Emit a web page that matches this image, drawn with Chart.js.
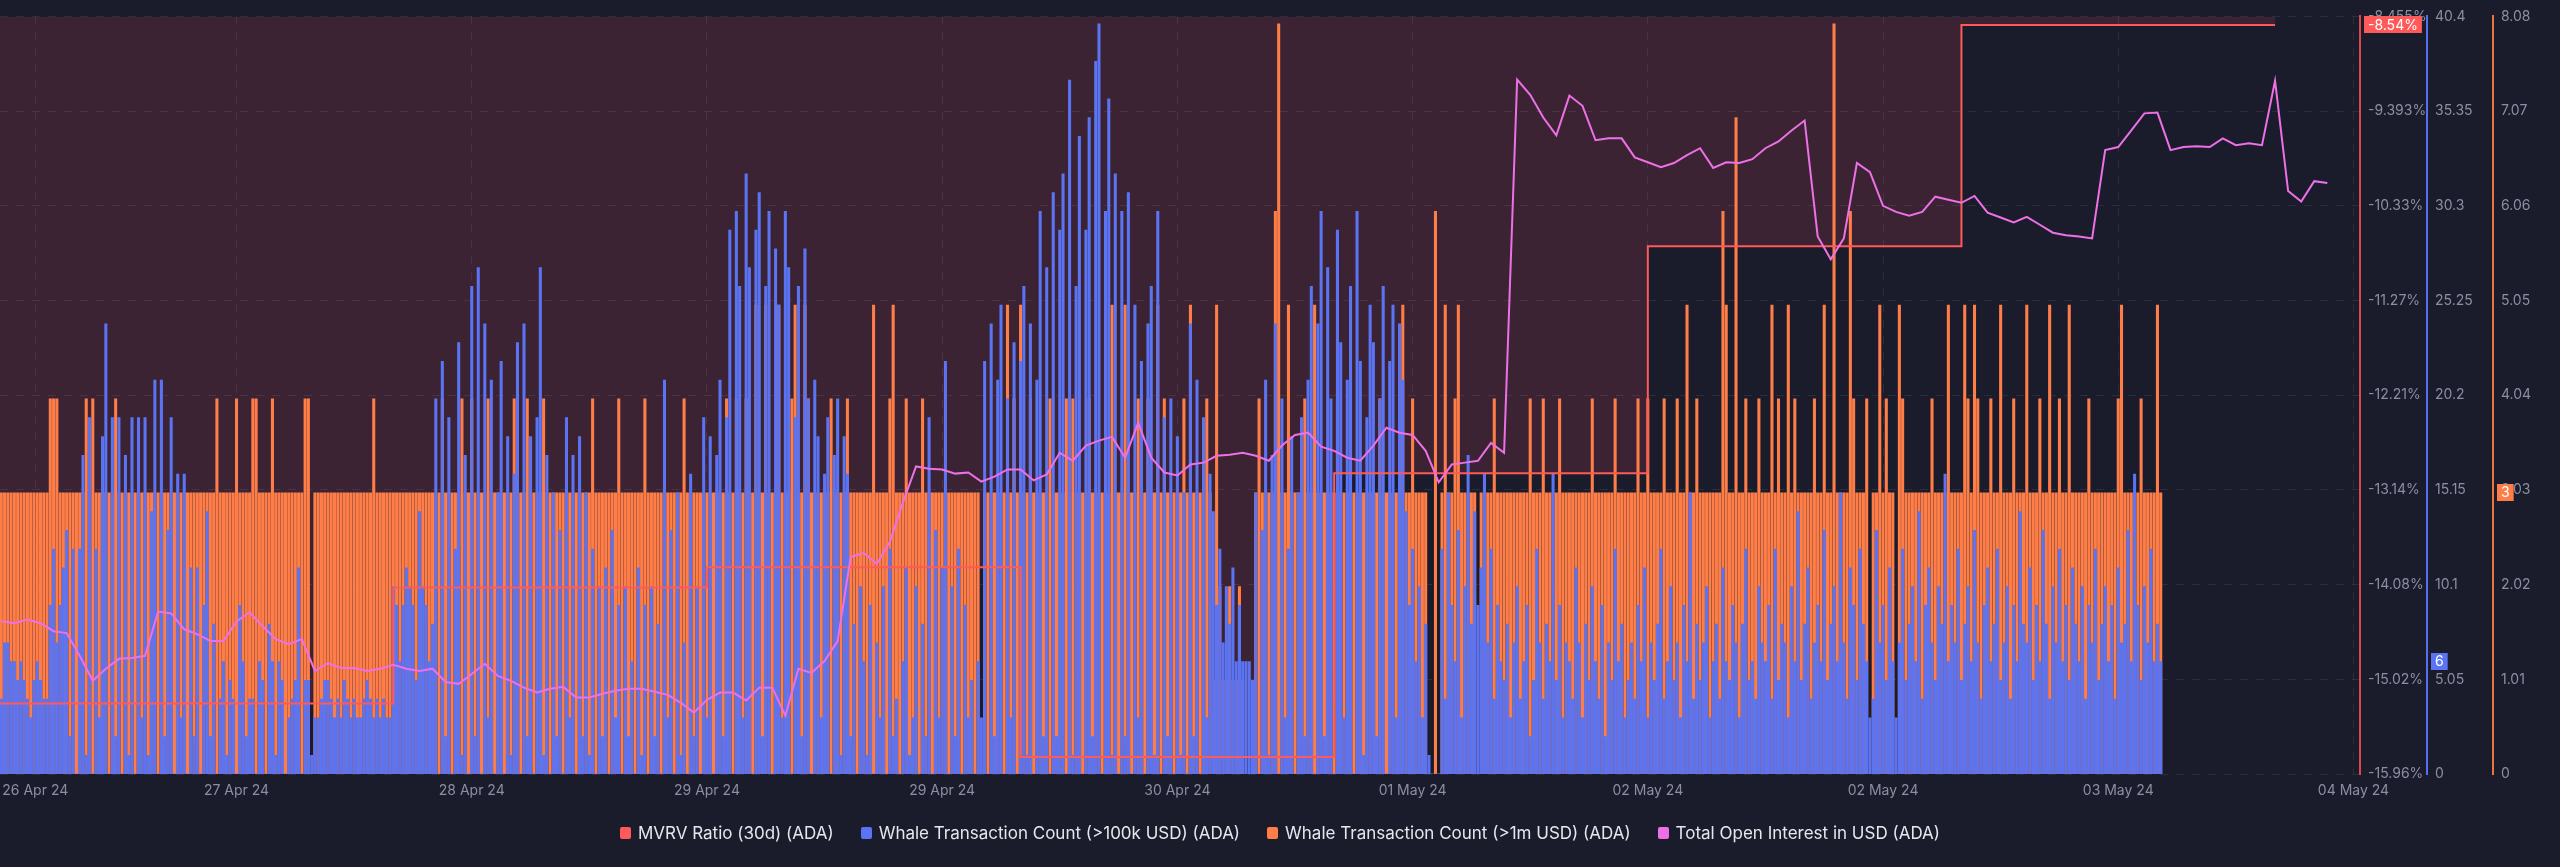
<!DOCTYPE html>
<html>
<head>
<meta charset="utf-8">
<script src="https://cdn.jsdelivr.net/npm/chart.js@4.4.1/dist/chart.umd.min.js"></script>
<style>
  html, body { margin: 0; padding: 0; background: #1b1c2b; }
  #wrap { position: relative; width: 2560px; height: 867px; overflow: hidden; }
  #legend {
    position: absolute; left: 0; top: 823px; width: 2560px;
    display: flex; justify-content: center; gap: 27px;
    font: 17px Inter, "Noto Sans", sans-serif; color: #e6e7ee;
  }
  #legend .item { display: flex; align-items: center; white-space: nowrap; }
  #legend .box { width: 11px; height: 12px; border-radius: 2px; margin-right: 7px; }
</style>
</head>
<body>
<div id="wrap">
  <canvas id="chart" width="2560" height="867"></canvas>
  <div id="legend"></div>
</div>
<script>
// ---- data ----
const SERIES_NAMES = [
  "MVRV Ratio (30d) (ADA)",
  "Whale Transaction Count (>100k USD) (ADA)",
  "Whale Transaction Count (>1m USD) (ADA)",
  "Total Open Interest in USD (ADA)",
];
const SERIES_COLORS = ["#ff5a5a", "#5a74f4", "#ff7e48", "#ee70e6"];

// x axis window and tick dates
const X_START = "2024-04-26T17:54:00Z";
const X_END = "2024-05-04T06:30:00Z";
const TICK_TIMES = [
  "2024-04-26T20:36:00Z", "2024-04-27T12:00:00Z", "2024-04-28T06:00:00Z", "2024-04-29T00:00:00Z",
  "2024-04-29T18:00:00Z", "2024-04-30T12:00:00Z", "2024-05-01T06:00:00Z", "2024-05-02T00:00:00Z",
  "2024-05-02T18:00:00Z", "2024-05-03T12:00:00Z", "2024-05-04T06:00:00Z",
];

// MVRV 30d, daily (%)
const MVRV_DATES = ["2024-04-26", "2024-04-27", "2024-04-28", "2024-04-29", "2024-04-30", "2024-05-01", "2024-05-02", "2024-05-03", "2024-05-04"];
const MVRV_VALUES = [-15.26, -15.26, -15.26, -14.11, -13.91, -15.79, -12.98, -10.73, -8.54];

// whale transaction counts, 15 minute buckets
const BAR_START = "2024-04-26T18:00:00Z";
const BAR_MINUTES = 15;
const WHALE_100K = [
  4,7,7,6,6,5,6,5,4,3,5,6,5,4,4,9,12,7,9,11,
  13,2,12,0,12,17,1,19,0,12,3,18,24,0,19,2,19,0,17,1,
  19,0,19,3,19,1,14,21,0,21,2,13,19,0,16,3,16,0,11,2,
  11,0,9,14,2,8,0,4,6,1,5,4,0,9,6,2,4,4,0,6,
  5,0,8,6,1,6,5,0,3,4,5,11,0,5,5,1,3,3,4,5,
  5,4,3,4,3,5,4,3,4,3,3,4,5,4,3,4,3,4,3,3,
  10,9,6,9,11,10,9,5,14,10,9,6,8,20,0,22,2,19,0,12,
  23,1,17,0,26,2,27,0,24,3,21,0,15,22,0,18,1,16,23,0,
  24,2,18,0,19,27,1,17,0,15,2,13,0,19,3,17,0,18,2,15,
  1,12,0,10,2,11,0,13,3,9,0,10,2,6,0,11,1,9,0,10,
  2,8,0,21,3,13,0,15,1,7,0,16,2,10,0,19,3,18,0,17,
  21,2,19,29,0,30,26,3,32,27,0,29,31,2,26,30,0,28,25,3,
  30,27,0,19,26,2,28,20,0,21,18,3,16,19,0,17,20,1,18,16,
  2,8,0,10,6,1,9,0,7,3,10,0,12,2,4,0,6,11,1,3,
  10,0,8,2,19,0,13,3,11,22,0,10,2,12,0,9,3,5,0,6,
  3,22,0,24,2,21,25,0,20,3,23,0,22,26,1,24,0,21,30,2,
  27,0,31,2,29,32,0,37,1,26,34,0,29,35,2,38,40,0,30,36,
  1,32,0,30,2,31,0,25,3,22,0,24,26,1,30,0,19,2,20,0,
  18,1,15,0,24,2,21,0,19,3,16,14,9,12,7,10,8,11,6,9,
  6,6,6,5,15,0,13,21,1,17,24,0,20,3,12,18,0,15,19,2,
  21,26,0,24,30,2,27,20,0,29,23,3,21,26,0,30,22,1,19,25,
  23,2,20,26,0,22,25,3,24,21,14,9,12,6,10,3,8,1,0,0,
  0,12,4,15,9,6,13,3,10,17,8,14,9,11,16,7,12,4,9,6,
  5,8,3,7,10,4,6,9,2,5,12,7,4,8,6,16,5,9,3,7,
  6,4,11,7,3,8,5,10,6,4,9,2,7,5,12,6,8,3,5,7,
  4,9,6,11,3,7,5,8,12,4,6,10,5,7,3,9,6,15,4,8,
  5,7,10,3,6,8,4,11,6,5,9,7,3,8,12,5,6,4,10,7,
  6,9,4,12,5,8,7,3,10,6,14,5,8,11,4,7,9,6,13,5,
  8,10,6,15,7,4,11,9,5,12,8,6,3,4,13,7,9,5,11,6,
  3,7,12,5,8,10,6,14,4,9,11,7,5,10,8,16,6,9,7,12,
  5,8,10,6,13,7,4,9,11,6,8,12,5,7,10,4,9,6,14,8,
  7,11,5,9,6,13,8,4,10,7,12,6,9,5,11,8,6,10,4,9,
  7,12,5,8,10,6,9,4,11,7,8,13,6,16,9,5,10,7,12,6,8,6,
];
const WHALE_1M = [
  3,3,3,3,3,3,3,3,3,3,3,3,3,3,3,4,4,4,3,3,
  3,3,3,3,3,3,4,3,4,3,3,3,3,3,3,4,3,3,3,3,
  3,3,3,3,3,3,3,3,3,3,3,3,3,3,3,3,3,3,3,3,
  3,3,3,3,3,3,4,3,3,3,3,3,4,3,3,3,3,4,4,3,
  3,3,3,4,3,3,3,3,3,3,3,3,3,4,4,0,3,3,3,3,
  3,3,3,3,3,3,3,3,3,3,3,3,3,3,4,3,3,3,3,3,
  3,3,3,3,3,3,3,3,3,3,3,3,3,3,3,4,3,3,3,3,
  3,4,3,3,4,3,3,3,3,4,3,3,3,3,3,3,3,4,3,3,
  3,4,3,3,3,3,4,3,3,3,3,3,3,3,3,3,3,3,3,3,
  3,4,3,3,3,3,3,3,3,4,3,3,3,3,3,3,3,4,3,3,
  3,3,3,3,3,3,3,3,3,4,3,3,3,3,3,3,3,3,3,3,
  3,3,4,3,3,4,3,3,4,3,3,5,3,3,5,3,3,3,5,3,
  3,3,4,5,3,3,5,4,3,3,3,3,3,3,4,3,3,3,3,4,
  3,3,3,3,3,3,3,5,3,3,3,3,4,5,3,3,3,4,3,3,
  3,3,4,3,3,3,3,3,3,3,3,3,3,3,3,3,3,3,3,3,
  0,3,3,3,3,3,3,3,5,3,4,3,5,3,3,4,3,3,3,3,
  3,4,3,3,3,3,4,3,4,3,3,3,3,4,3,3,3,3,3,3,
  5,3,3,3,5,3,3,3,4,3,3,4,3,3,5,3,4,3,3,3,
  3,3,4,3,5,3,3,3,3,4,3,1,5,2,1,1,2,1,1,2,
  1,0,0,0,3,4,3,3,3,3,6,8,3,3,5,3,3,3,3,4,
  3,3,5,3,3,3,3,3,3,4,3,3,3,3,3,3,3,3,3,3,
  3,3,4,3,3,3,3,3,3,5,3,3,4,3,3,3,3,0,0,6,
  0,3,5,3,3,4,5,3,3,3,3,3,0,3,3,3,3,4,3,3,
  3,3,3,3,3,3,3,3,4,3,3,3,4,3,3,3,3,4,3,3,
  3,3,3,3,3,3,3,4,3,3,3,3,3,3,4,3,3,3,3,3,
  3,4,3,3,4,3,3,3,3,4,3,3,3,4,3,3,5,3,3,4,
  3,3,3,3,3,3,3,6,5,3,3,7,3,3,4,3,3,3,4,3,
  3,3,5,3,4,3,3,5,3,4,3,3,3,3,3,4,3,3,5,3,
  3,8,3,3,3,3,6,4,3,3,3,4,0,3,3,5,3,4,3,3,
  0,5,4,3,3,3,3,3,3,3,3,4,3,3,3,3,5,3,3,3,
  3,5,4,3,5,4,3,3,3,4,3,3,5,3,3,3,4,3,3,3,
  5,3,3,3,4,3,3,5,3,3,4,3,3,5,3,3,3,3,3,4,
  3,3,3,3,3,3,3,3,4,5,3,3,3,3,3,4,3,3,3,3,5,3,
];

// total open interest, hourly, million USD
const OI_START = "2024-04-26T18:00:00Z";
const OI_MINUTES = 60;
const OPEN_INTEREST = [
  240.3,239.8,240.8,239.8,237.7,237.2,231.2,224.6,227.8,230.4,
  230.6,231.2,242.9,242.4,238.2,236.9,235.1,235.1,240.3,242.7,
  239.0,235.6,234.3,235.6,227.2,229.3,228.0,228.0,227.2,227.8,
  228.8,227.8,227.2,227.8,224.3,223.8,226.4,229.1,225.9,224.6,
  222.8,221.5,222.5,223.0,220.2,220.2,221.2,222.0,222.5,222.5,
  221.7,220.9,218.8,216.2,219.6,221.5,221.5,219.4,222.8,222.8,
  215.4,227.8,226.7,229.8,235.1,257.3,258.4,255.5,261.3,271.7,
  281.2,280.6,280.4,279.3,279.6,277.2,278.5,280.4,280.4,277.5,
  279.1,284.8,282.7,286.7,288.0,289.0,283.5,292.7,283.5,279.6,
  278.8,281.7,282.2,284.0,284.3,284.8,284.0,282.7,286.7,289.5,
  290.1,286.4,285.3,283.5,282.7,286.7,291.4,290.1,289.5,285.3,
  277.0,281.7,282.2,282.7,287.4,284.8,383.3,379.3,373.3,368.6,
  379.1,376.4,367.3,367.8,367.8,362.8,361.5,360.2,361.3,363.4,
  365.2,360.0,361.5,361.3,362.3,365.2,367.0,369.9,372.5,341.9,
  335.9,341.4,361.3,358.9,350.0,348.4,347.4,348.4,352.4,351.6,
  350.8,352.6,348.2,346.9,345.6,347.1,345.0,342.9,342.2,341.9,
  341.4,364.7,365.5,369.9,374.4,374.6,364.7,365.5,365.7,365.5,
  367.8,366.0,366.5,366.0,383.0,353.9,351.1,356.5,356.0,
];

// axis ranges as shown on the right
const MVRV_MIN = -15.9574, MVRV_MAX = -8.455;
const WHALE_100K_MAX = 40.4;
const WHALE_1M_MAX = 8.08;
const OI_MIN = 200, OI_MAX = 400;

// ---- helpers ----
const ORIGIN = Date.UTC(2024, 3, 26);
const MONTHS = ["Jan", "Feb", "Mar", "Apr", "May", "Jun", "Jul", "Aug", "Sep", "Oct", "Nov", "Dec"];
const hoursOf = (iso) => (Date.parse(iso) - ORIGIN) / 3600000;
const dayLabel = (h) => {
  const d = new Date(ORIGIN + h * 3600000);
  return `${String(d.getUTCDate()).padStart(2, "0")} ${MONTHS[d.getUTCMonth()]} 24`;
};
const series = (startIso, minutes, values) =>
  values.map((v, i) => ({ x: hoursOf(startIso) + (i * minutes) / 60, y: v }));

const AXIS_TEXT = "#8b8fa5";
const GRID = "rgba(255,255,255,0.08)";
const TICK_FONT = { family: "Inter, 'Noto Sans', sans-serif", size: 14 };

// legend (html)
const legend = document.getElementById("legend");
SERIES_NAMES.forEach((name, i) => {
  const item = document.createElement("div");
  item.className = "item";
  item.innerHTML = `<span class="box" style="background:${SERIES_COLORS[i]}"></span>${name.replace(/</g, "&lt;").replace(/>/g, "&gt;")}`;
  legend.appendChild(item);
});

// last value badges on the right axes
const badges = {
  id: "badges",
  afterDraw(chart) {
    const ctx = chart.ctx;
    const list = [
      [0, "yMvrv", (v) => `${v.toFixed(2)}%`],
      [1, "yBlue", (v) => String(v)],
      [2, "yOrange", (v) => String(v)],
    ];
    ctx.save();
    ctx.font = "14px Inter, 'Noto Sans', sans-serif";
    ctx.textBaseline = "middle";
    list.forEach(([index, scaleId, fmt]) => {
      const data = chart.data.datasets[index].data;
      const last = data[data.length - 1].y;
      const scale = chart.scales[scaleId];
      const y = scale.getPixelForValue(last);
      const text = fmt(last);
      const w = ctx.measureText(text).width + 8;
      ctx.fillStyle = SERIES_COLORS[index];
      ctx.fillRect(scale.left + 4, Math.round(y - 8.5), w, 17);
      ctx.fillStyle = "#ffffff";
      ctx.fillText(text, scale.left + 8, y + 0.5);
    });
    ctx.restore();
  },
};

const rightAxis = (min, max, color, fmt, width, grid) => ({
  position: "right",
  min,
  max,
  grid: grid ? { color: GRID, drawTicks: false } : { display: false, drawTicks: false },
  border: { display: true, color, width: 2, dash: [8, 8] },
  ticks: { count: 9, color: AXIS_TEXT, font: TICK_FONT, padding: 8, callback: fmt },
  afterFit: (scale) => { scale.width = width; },
});

new Chart(document.getElementById("chart"), {
  data: {
    datasets: [
      {
        type: "line",
        label: SERIES_NAMES[0],
        data: MVRV_DATES.map((d, i) => ({ x: hoursOf(`${d}T00:00:00Z`), y: MVRV_VALUES[i] })),
        yAxisID: "yMvrv",
        stepped: "after",
        borderColor: SERIES_COLORS[0],
        borderWidth: 2,
        backgroundColor: "rgba(255,80,110,0.145)",
        fill: "end",
        pointRadius: 0,
        order: 1,
      },
      {
        type: "bar",
        label: SERIES_NAMES[1],
        data: series(BAR_START, BAR_MINUTES, WHALE_100K),
        yAxisID: "yBlue",
        backgroundColor: SERIES_COLORS[1],
        barThickness: 2.4,
        grouped: false,
        order: 2,
      },
      {
        type: "bar",
        label: SERIES_NAMES[2],
        data: series(BAR_START, BAR_MINUTES, WHALE_1M),
        yAxisID: "yOrange",
        backgroundColor: SERIES_COLORS[2],
        barThickness: 2.4,
        grouped: false,
        order: 3,
      },
      {
        type: "line",
        label: SERIES_NAMES[3],
        data: series(OI_START, OI_MINUTES, OPEN_INTEREST),
        yAxisID: "yOI",
        borderColor: SERIES_COLORS[3],
        borderWidth: 2,
        pointRadius: 0,
        fill: false,
        order: 0,
      },
    ],
  },
  options: {
    responsive: false,
    devicePixelRatio: 1,
    animation: false,
    layout: { padding: { top: 10, left: 0, right: 0, bottom: 63 } },
    plugins: {
      legend: { display: false },
      tooltip: { enabled: false },
      filler: { drawTime: "beforeDatasetsDraw" },
    },
    scales: {
      x: {
        type: "linear",
        offset: false,
        min: hoursOf(X_START),
        max: hoursOf(X_END),
        grid: { color: GRID, drawTicks: false, offset: false },
        border: { display: false, dash: [8, 8] },
        ticks: { color: AXIS_TEXT, font: TICK_FONT, padding: 8, maxRotation: 0, autoSkip: false, callback: (v) => dayLabel(v) },
        afterBuildTicks: (scale) => { scale.ticks = TICK_TIMES.map((t) => ({ value: hoursOf(t) })); },
        afterFit: (scale) => { scale.height = 30; scale.paddingLeft = 0; },
      },
      yMvrv: rightAxis(MVRV_MIN, MVRV_MAX, "#d9484b", (v) => `${Number(v).toPrecision(4)}%`, 67, true),
      yBlue: rightAxis(0, WHALE_100K_MAX, "#5470f0", (v) => String(+Number(v).toFixed(2)), 66, false),
      yOrange: rightAxis(0, WHALE_1M_MAX, "#e8743f", (v) => String(+Number(v).toFixed(2)), 67, false),
      yOI: { display: false, min: OI_MIN, max: OI_MAX },
    },
  },
  plugins: [badges],
});
</script>
</body>
</html>
